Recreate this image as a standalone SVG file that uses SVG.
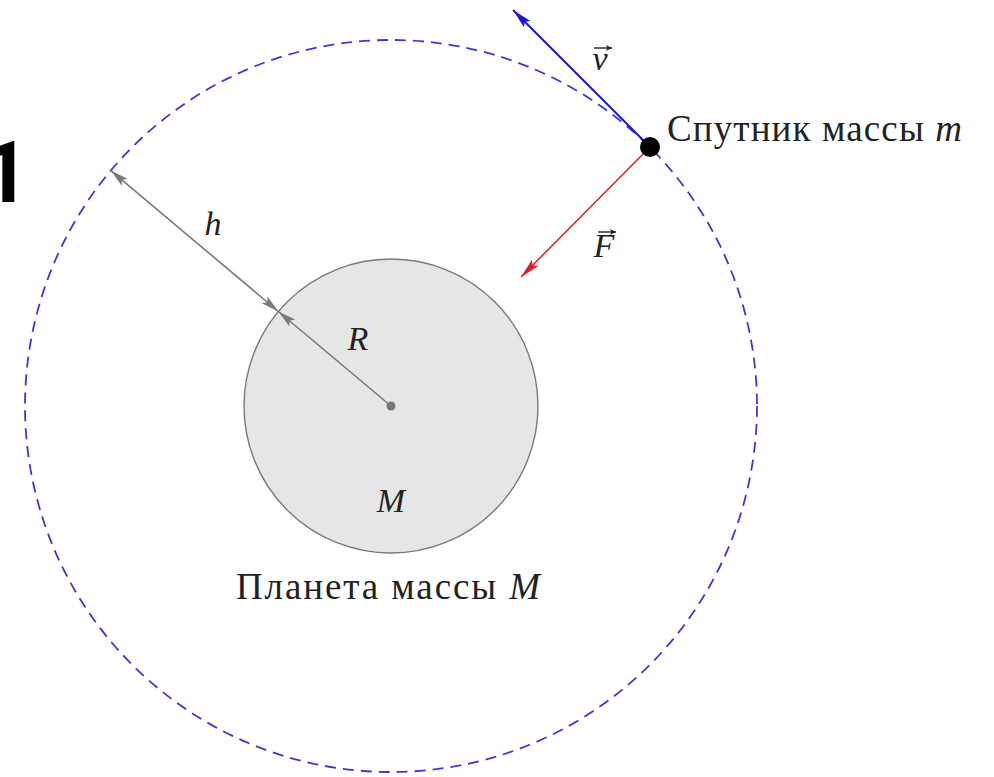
<svg xmlns="http://www.w3.org/2000/svg" width="994" height="777" viewBox="0 0 994 777">
<style>
.t{font-family:"Liberation Serif","DejaVu Serif",serif;font-size:37px;fill:#222}
.m{font-family:"Liberation Serif","DejaVu Serif",serif;font-size:34px;font-style:italic;fill:#222}
.i{font-style:italic}
.gray{stroke:#7a7a7a;stroke-width:1.6;fill:none}
.acc{stroke:#222;stroke-width:1.4;fill:none}
</style>
<defs>
<marker id="ag" markerWidth="20" markerHeight="12" refX="18" refY="6" orient="auto-start-reverse" markerUnits="userSpaceOnUse">
<path d="M0,1.5 L18,6 L0,10.5 L3.5,6 Z" fill="#7a7a7a"/>
</marker>
<marker id="ab" markerWidth="22" markerHeight="12" refX="20" refY="6" orient="auto" markerUnits="userSpaceOnUse">
<path d="M0,1.5 L20,6 L0,10.5 L3.5,6 Z" fill="#1a1ad6"/>
</marker>
<marker id="ar" markerWidth="22" markerHeight="12" refX="20" refY="6" orient="auto" markerUnits="userSpaceOnUse">
<path d="M0,1.5 L20,6 L0,10.5 L3.5,6 Z" fill="#e81c1c"/>
</marker>
<marker id="aa" markerWidth="8" markerHeight="8" refX="6" refY="4" orient="auto" markerUnits="userSpaceOnUse">
<path d="M0,1 L6,4 L0,7 L1.5,4 Z" fill="#222"/>
</marker>
</defs>
<rect width="994" height="777" fill="#fff"/>
<text x="-19" y="202" font-family="Roboto,'Open Sans',sans-serif" font-weight="bold" font-size="85" fill="#000">1</text>
<g id="orbit">
<circle cx="391" cy="406" r="366" fill="none" stroke="#3a3ad2" stroke-width="1.8" stroke-dasharray="11 7"/>
</g>
<g id="planet">
<circle cx="391" cy="406" r="147" fill="#e6e6e6" stroke="#7a7a7a" stroke-width="1.4"/>
<circle cx="391" cy="406" r="4.5" fill="#777"/>
<text class="m" x="391" y="512" text-anchor="middle">M</text>
<text class="t" x="236" y="599" textLength="304" lengthAdjust="spacing">Планета массы <tspan class="i">M</tspan></text>
</g>
<g id="connectors">
<line class="gray" x1="391" y1="406" x2="278.4" y2="311.5" marker-end="url(#ag)"/>
<line class="gray" x1="278.4" y1="311.5" x2="110.8" y2="170.6" marker-start="url(#ag)" marker-end="url(#ag)"/>
<line x1="650" y1="147" x2="513" y2="10" stroke="#1a1ad6" stroke-width="2" marker-end="url(#ab)"/>
<line x1="650" y1="147" x2="521" y2="277" stroke="#e81c1c" stroke-width="1.5" marker-end="url(#ar)"/>
</g>
<g id="labels">
<text class="m" x="213" y="235" text-anchor="middle">h</text>
<text class="m" x="358" y="350" text-anchor="middle">R</text>
<text class="m" x="600" y="70" text-anchor="middle">v</text>
<line class="acc" x1="594" y1="48" x2="612" y2="48" marker-end="url(#aa)"/>
<text class="m" x="604" y="257" text-anchor="middle">F</text>
<line class="acc" x1="598" y1="232" x2="616" y2="232" marker-end="url(#aa)"/>
</g>
<g id="satellite">
<circle cx="650" cy="147" r="10" fill="#000"/>
<text class="t" x="667" y="141" textLength="295" lengthAdjust="spacing">Спутник массы <tspan class="i">m</tspan></text>
</g>
</svg>
